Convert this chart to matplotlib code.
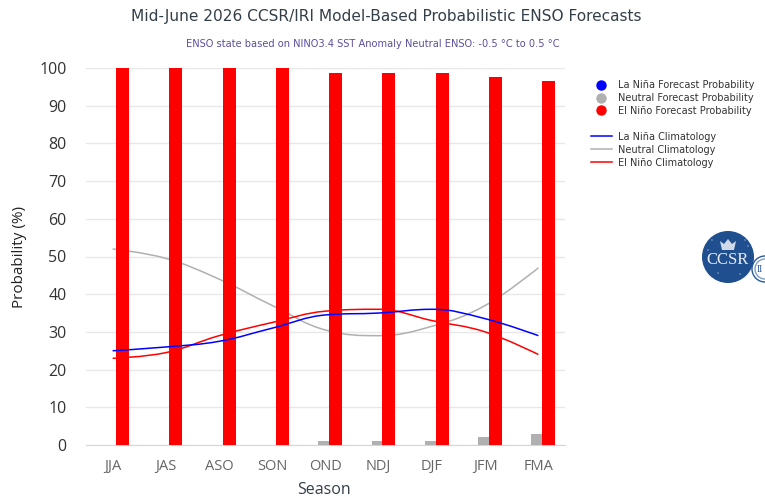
import matplotlib
matplotlib.use('Agg')
import matplotlib.pyplot as plt
from matplotlib.lines import Line2D
from matplotlib.patches import Circle, PathPatch, Polygon
from matplotlib.path import Path
import numpy as np

seasons = ['JJA', 'JAS', 'ASO', 'SON', 'OND', 'NDJ', 'DJF', 'JFM', 'FMA']

# forecast probabilities (%)
lanina_forecast = [0, 0, 0, 0, 0, 0, 0, 0, 0]
neutral_forecast = [0, 0, 0, 0, 1, 1, 1, 2, 3]
elnino_forecast = [100, 100, 100, 100, 98.7, 98.7, 98.7, 97.6, 96.6]

# climatology (%)
lanina_clim = [25, 26, 27.5, 31, 34.5, 35, 36, 33.5, 29]
neutral_clim = [52, 49.5, 44, 37, 30.5, 29, 31.5, 37, 47]
elnino_clim = [23, 24.5, 29, 32.5, 35.5, 36, 33, 30, 24]

yticks = list(range(0, 101, 10))

W, H = 765, 497
BLUE = '#0000ff'
GREY = '#b0b0b0'
RED = '#ff0000'
DARK = '#333f48'


def spline_path(xs, ys, smoothing=1.5):
    # same control point rule as a highcharts spline series
    denom = smoothing + 1
    n = len(xs)
    right = [(xs[0], ys[0])] * n
    left = [(xs[-1], ys[-1])] * n
    for i in range(1, n - 1):
        lx = (smoothing * xs[i] + xs[i - 1]) / denom
        ly = (smoothing * ys[i] + ys[i - 1]) / denom
        rx = (smoothing * xs[i] + xs[i + 1]) / denom
        ry = (smoothing * ys[i] + ys[i + 1]) / denom
        correction = (ry - ly) * (rx - xs[i]) / (rx - lx) + ys[i] - ry
        ly += correction
        ry += correction
        if ly > ys[i - 1] and ly > ys[i]:
            ly = max(ys[i - 1], ys[i])
            ry = 2 * ys[i] - ly
        elif ly < ys[i - 1] and ly < ys[i]:
            ly = min(ys[i - 1], ys[i])
            ry = 2 * ys[i] - ly
        if ry > ys[i + 1] and ry > ys[i]:
            ry = max(ys[i + 1], ys[i])
            ly = 2 * ys[i] - ry
        elif ry < ys[i + 1] and ry < ys[i]:
            ry = min(ys[i + 1], ys[i])
            ly = 2 * ys[i] - ry
        left[i] = (lx, ly)
        right[i] = (rx, ry)
    verts = [(xs[0], ys[0])]
    codes = [Path.MOVETO]
    for i in range(1, n):
        verts += [right[i - 1], left[i], (xs[i], ys[i])]
        codes += [Path.CURVE4] * 3
    return Path(verts, codes)


fig = plt.figure(figsize=(W / 100, H / 100), dpi=100)
ax = fig.add_axes([86 / W, 1 - 445 / H, 479 / W, 377 / H])

x = np.arange(len(seasons))
bar_w = 0.245

ax.bar(x - 0.19, lanina_forecast, bar_w, color=BLUE, zorder=3)
ax.bar(x - 0.01, neutral_forecast, bar_w, color=GREY, zorder=3)
ax.bar(x + 0.19, elnino_forecast, bar_w, color=RED, zorder=4)

# grey and red curves sit behind the bars, the blue one in front
ax.add_patch(PathPatch(spline_path(x, neutral_clim), fill=False, edgecolor=GREY, lw=1.1, zorder=2))
ax.add_patch(PathPatch(spline_path(x, elnino_clim), fill=False, edgecolor=RED, lw=1.1, zorder=2))
ax.add_patch(PathPatch(spline_path(x, lanina_clim), fill=False, edgecolor=BLUE, lw=1.1, zorder=5))

ax.set_xlim(-0.5, 8.5)
ax.set_ylim(0, 100)
ax.set_xticks(x)
ax.set_xticklabels(seasons, fontsize=10.5, color='#666666', family='Open Sans')
ax.set_yticks(yticks)
ax.set_yticklabels(yticks, fontsize=11.5, color='#333333', family='Open Sans')
ax.tick_params(axis='both', length=0)
ax.tick_params(axis='x', pad=10)
ax.tick_params(axis='y', pad=14)
ax.grid(axis='y', color='#e8e8e8', lw=1)
ax.set_axisbelow(True)
for side in ['top', 'left', 'right']:
    ax.spines[side].set_visible(False)
ax.spines['bottom'].set_color('#ccd6eb')

fig.text(386 / W, 1 - 17 / H, 'Mid-June 2026 CCSR/IRI Model-Based Probabilistic ENSO Forecasts',
         ha='center', va='center', fontsize=11.1, color=DARK)
fig.text(373 / W, 1 - 44 / H, 'ENSO state based on NINO3.4 SST Anomaly Neutral ENSO: -0.5 °C to 0.5 °C',
         ha='center', va='center', fontsize=7.15, color='#5b4fa0')
fig.text(20 / W, 1 - 257 / H, 'Probability (%)', rotation=90, ha='center', va='center',
         fontsize=11, color='#222222', family='Open Sans')
fig.text(324 / W, 1 - 490 / H, 'Season', ha='center', va='center', fontsize=11.5, color=DARK, family='Open Sans')

handles = [
    Line2D([], [], ls='none', marker='o', ms=6.5, color=BLUE),
    Line2D([], [], ls='none', marker='o', ms=6.5, color=GREY),
    Line2D([], [], ls='none', marker='o', ms=6.5, color=RED),
    Line2D([], [], ls='none'),
    Line2D([], [], color=BLUE, lw=1.1),
    Line2D([], [], color=GREY, lw=1.1),
    Line2D([], [], color=RED, lw=1.1),
]
labels = ['La Niña Forecast Probability', 'Neutral Forecast Probability', 'El Niño Forecast Probability', '',
          'La Niña Climatology', 'Neutral Climatology', 'El Niño Climatology']
ax.legend(handles, labels, loc='upper left', bbox_to_anchor=(591 / W, 1 - 80 / H),
          bbox_transform=fig.transFigure, frameon=False, fontsize=7.05, labelcolor='#333333',
          borderpad=0, borderaxespad=0, handlelength=2.1, handletextpad=0.62, labelspacing=0.3)

# logos, in pixel coordinates
logo = fig.add_axes([0, 0, 1, 1], zorder=10)
logo.set_xlim(0, W)
logo.set_ylim(H, 0)
logo.axis('off')
logo.add_patch(Circle((765, 269), 13, facecolor='white', edgecolor='#2a5a9a', lw=1))
logo.add_patch(Circle((765, 269), 10, facecolor='white', edgecolor='#7f9fc6', lw=1))
logo.text(757, 269, 'II', ha='left', va='center', fontsize=7, color='#2a5a9a', family='Liberation Serif', clip_on=True)
logo.add_patch(Circle((728, 257), 26, facecolor='#1f4f8f', edgecolor='none'))
logo.text(728, 260, 'CCSR', ha='center', va='center', fontsize=12, color='#e8edf5', family='Liberation Serif')
logo.add_patch(Polygon([(722, 250), (734, 250), (736, 241), (732, 244), (728, 239), (724, 244), (720, 241)],
                       closed=True, facecolor='#cfd9e8', edgecolor='none'))
for sx, sy in [(712, 240), (745, 240), (748, 246), (718, 273), (740, 274), (708, 250)]:
    logo.add_patch(Circle((sx, sy), 0.6, facecolor='#cfd9e8', edgecolor='none'))

fig.savefig('out.png', dpi=100)
